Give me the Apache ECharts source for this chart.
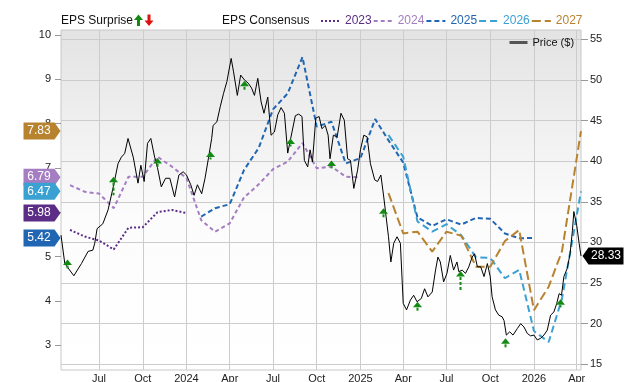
<!DOCTYPE html>
<html><head><meta charset="utf-8">
<script src="https://cdn.jsdelivr.net/npm/echarts@6/dist/echarts.min.js"></script>
<style>html,body{margin:0;padding:0;background:#fff}#c{width:640px;height:382px}</style>
</head><body><div id="c"></div>
<script>
// ---------- axis ticks ----------
const xRange = ['2023-04-12', '2026-04-10'];
const xTickDates = ['2023-07-01','2023-10-01','2024-01-01','2024-04-01','2024-07-01','2024-10-01','2025-01-01','2025-04-01','2025-07-01','2025-10-01','2026-01-01','2026-04-01'];
const xTickLabels = ['Jul','Oct','2024','Apr','Jul','Oct','2025','Apr','Jul','Oct','2026','Apr'];
const epsRange = [2.44, 10.11];
const epsTicks = [3,4,5,6,7,8,9,10];
const priceRange = [14.3, 56.15];
const priceTicks = [15,20,25,30,35,40,45,50,55];

// ---------- price ----------
const priceDates = ['2023-04-12','2023-04-20','2023-05-09','2023-05-25','2023-06-08','2023-06-18','2023-06-22','2023-06-27','2023-07-09','2023-07-20','2023-07-31','2023-08-10','2023-08-17','2023-08-24','2023-08-31','2023-09-11','2023-09-21','2023-09-27','2023-10-04','2023-10-11','2023-10-18','2023-10-26','2023-11-01','2023-11-09','2023-11-18','2023-11-27','2023-12-07','2023-12-16','2023-12-25','2024-01-01','2024-01-10','2024-01-17','2024-01-24','2024-02-02','2024-02-09','2024-02-16','2024-02-23','2024-02-26','2024-03-05','2024-03-12','2024-03-19','2024-03-26','2024-04-04','2024-04-09','2024-04-17','2024-04-24','2024-05-02','2024-05-10','2024-05-17','2024-05-23','2024-05-30','2024-06-06','2024-06-12','2024-06-20','2024-06-27','2024-07-04','2024-07-11','2024-07-18','2024-07-25','2024-08-01','2024-08-10','2024-08-17','2024-08-24','2024-08-31','2024-09-05','2024-09-12','2024-09-17','2024-09-22','2024-09-29','2024-10-06','2024-10-12','2024-10-19','2024-10-25','2024-10-29','2024-11-05','2024-11-13','2024-11-21','2024-11-28','2024-12-05','2024-12-11','2024-12-18','2024-12-26','2025-01-01','2025-01-08','2025-01-15','2025-01-22','2025-01-31','2025-02-06','2025-02-13','2025-02-19','2025-02-24','2025-03-01','2025-03-06','2025-03-12','2025-03-19','2025-03-26','2025-04-01','2025-04-08','2025-04-16','2025-04-23','2025-04-30','2025-05-09','2025-05-16','2025-05-23','2025-06-01','2025-06-08','2025-06-13','2025-06-18','2025-06-25','2025-07-02','2025-07-09','2025-07-16','2025-07-23','2025-07-27','2025-08-03','2025-08-10','2025-08-17','2025-08-24','2025-08-29','2025-09-04','2025-09-11','2025-09-18','2025-09-25','2025-10-01','2025-10-05','2025-10-12','2025-10-19','2025-10-26','2025-10-30','2025-11-04','2025-11-11','2025-11-18','2025-11-27','2025-12-04','2025-12-11','2025-12-18','2025-12-25','2026-01-01','2026-01-08','2026-01-15','2026-01-22','2026-01-29','2026-02-05','2026-02-12','2026-02-18','2026-02-23','2026-02-28','2026-03-05','2026-03-12','2026-03-18','2026-03-23','2026-03-26','2026-04-01','2026-04-06','2026-04-10'];
const priceValues = [30.9,27.4,25.9,27.4,28.9,29.05,29.9,31.7,32.3,34.0,36.85,39.7,40.5,40.96,42.8,40.5,37.3,39.5,37.5,42.2,42.8,40.5,39.2,36.85,37.9,37.9,35.6,38.3,38.7,38.3,37.1,35.8,37.1,36.0,37.9,40.3,42.8,44.4,44.85,46.7,48.35,49.8,52.65,51.0,48.1,50.6,50.0,49.6,49.0,48.1,50.2,47.3,45.9,47.9,43.2,43.6,45.7,46.6,45.9,41.0,43.6,45.6,45.8,45.5,40.1,39.3,41.4,39.9,45.3,45.5,44.0,44.4,43.2,40.3,43.2,43.0,45.9,45.05,40.3,40.1,36.65,38.9,41.4,43.2,43.0,39.7,37.7,37.5,38.3,35.6,33.15,30.7,27.6,29.9,30.7,29.9,22.5,21.7,22.9,23.5,22.7,23.1,24.3,23.3,23.9,26.6,28.2,27.6,25.15,26.2,28.4,26.6,27.6,26.4,26.6,26.2,27.0,28.2,28.6,27.0,27.0,25.8,27.4,25.8,23.3,21.7,21.05,20.85,20.4,18.6,19.0,18.6,19.4,20.0,19.6,18.8,18.5,18.6,18.0,18.2,18.6,19.2,21.05,21.45,22.5,23.7,23.5,25.8,26.8,28.6,31.5,33.8,32.1,29.9,28.33];

// ---------- EPS consensus ----------
const eps2023Dates = ['2023-05-01','2023-06-01','2023-07-01','2023-08-01','2023-09-01','2023-10-01','2023-11-01','2023-12-01','2024-01-01'];
const eps2023Values = [5.60,5.45,5.36,5.16,5.65,5.66,6.00,6.05,5.98];
const eps2024Dates = ['2023-05-01','2023-06-01','2023-07-01','2023-08-01','2023-09-01','2023-10-01','2023-11-01','2023-12-01','2024-01-01','2024-02-01','2024-03-01','2024-04-01','2024-05-01','2024-06-01','2024-07-01','2024-08-01','2024-09-01','2024-10-01','2024-11-01','2024-12-01','2024-12-28'];
const eps2024Values = [6.61,6.46,6.42,6.09,6.80,6.80,7.25,7.03,6.77,5.82,5.56,5.75,6.33,6.63,6.97,7.14,7.56,6.99,7.03,6.80,6.79];
const eps2025Dates = ['2024-02-01','2024-03-01','2024-04-01','2024-05-01','2024-06-01','2024-07-01','2024-08-01','2024-09-01','2024-10-01','2024-11-01','2024-12-01','2025-01-01','2025-02-01','2025-03-01','2025-04-01','2025-05-01','2025-06-01','2025-07-01','2025-08-01','2025-09-01','2025-10-01','2025-11-01','2025-12-01','2026-01-01'];
const eps2025Values = [5.90,6.09,6.18,6.95,7.45,8.32,8.68,9.50,7.93,8.04,7.10,7.22,8.10,7.62,7.12,5.88,5.69,5.84,5.72,5.87,5.85,5.52,5.41,5.42];
const eps2026Dates = ['2025-03-01','2025-04-01','2025-05-01','2025-06-01','2025-07-01','2025-08-01','2025-09-01','2025-10-01','2025-11-01','2025-12-01','2026-01-01','2026-02-01','2026-03-01','2026-04-10'];
const eps2026Values = [7.74,7.25,5.79,5.56,5.73,5.48,4.98,4.97,4.51,4.70,3.32,3.07,4.05,6.47];
const eps2027Dates = ['2025-03-01','2025-04-01','2025-05-01','2025-06-01','2025-07-01','2025-08-01','2025-09-01','2025-10-01','2025-11-01','2025-12-01','2026-01-01','2026-02-01','2026-03-01','2026-04-10'];
const eps2027Values = [6.43,5.52,5.56,5.11,5.56,5.47,4.77,4.77,5.35,5.60,3.79,4.32,5.12,7.83];

// ---------- EPS surprise (beats) ----------
const surpriseDates = ['2023-04-25','2023-07-31','2023-10-31','2024-02-20','2024-05-01','2024-08-06','2024-10-30','2025-02-18','2025-04-30','2025-07-30','2025-11-02','2026-02-25'];
const surpriseTop = [27.9,38.1,40.4,41.2,49.9,42.8,40.1,34.2,22.7,26.5,18.2,23.0];
const surpriseBottom = [26.8,35.8,39.3,40.3,48.8,42.0,39.3,33.1,21.6,24.1,17.0,22.1];

const FONT = 'Liberation Sans, Arial, sans-serif';
const t = s => { const p = s.split('-').map(Number); return new Date(p[0], p[1]-1, p[2]).getTime(); };
const xTickTimes = xTickDates.map(t);
const labelMap = {};
xTickTimes.forEach((v, i) => { labelMap[v] = xTickLabels[i]; });
const zip = (d, v) => d.map((x, i) => [t(x), v[i]]);

const epsSeries = [
  {name:'2023', dates:eps2023Dates, values:eps2023Values, color:'#5b2d86', dash:[2,2]},
  {name:'2024', dates:eps2024Dates, values:eps2024Values, color:'#a47dc2', dash:[4,3]},
  {name:'2025', dates:eps2025Dates, values:eps2025Values, color:'#2166b2', dash:[5,3]},
  {name:'2026', dates:eps2026Dates, values:eps2026Values, color:'#3aa1d2', dash:[7,4]},
  {name:'2027', dates:eps2027Dates, values:eps2027Values, color:'#b8832f', dash:[9,4]}
];

const chart = echarts.init(document.getElementById('c'));
const series = epsSeries.map(s => ({
  name: s.name, type: 'line', yAxisIndex: 0, symbol: 'none', showSymbol: false,
  data: zip(s.dates, s.values),
  lineStyle: {color: s.color, width: 2, type: s.dash},
  itemStyle: {color: s.color},
  z: 3,
  markPoint: {
    symbol: 'path://M0,0 L31,0 L37,8 L31,16 L0,16 Z',
    symbolSize: [37, 17],
    symbolOffset: [-19, 0],
    itemStyle: {color: s.color},
    label: {show: true, color: '#fff', fontSize: 12, fontFamily: FONT, offset: [-3, 0], formatter: p => p.value},
    data: [{coord: [t(xRange[0]), s.values[s.values.length-1]], value: s.values[s.values.length-1].toFixed(2)}],
    z: 10
  }
}));
series.push({
  name: 'Price ($)', type: 'line', yAxisIndex: 1, symbol: 'none', showSymbol: false,
  data: zip(priceDates, priceValues),
  lineStyle: {color: '#000', width: 1},
  itemStyle: {color: '#000'},
  z: 4,
  markPoint: {
    symbol: 'path://M0,8 L6,0 L41,0 L41,16 L6,16 Z',
    symbolSize: [41, 17],
    symbolOffset: [22, 0],
    itemStyle: {color: '#000'},
    label: {show: true, color: '#fff', fontSize: 12, fontFamily: FONT, offset: [3, 0], formatter: p => p.value},
    data: [{coord: [t(xRange[1]), priceValues[priceValues.length-1]], value: priceValues[priceValues.length-1].toFixed(2)}],
    z: 10
  }
});
series.push({
  name: 'surprise', type: 'custom', yAxisIndex: 1, z: 6,
  data: surpriseDates.map((d, i) => [t(d), surpriseTop[i], surpriseBottom[i]]),
  encode: {x: 0, y: [1, 2]},
  renderItem: (params, api) => {
    const top = api.coord([api.value(0), api.value(1)]);
    const bot = api.coord([api.value(0), api.value(2)]);
    const x = Math.round(top[0]) + 0.5;
    return {type: 'group', children: [
      {type: 'line', shape: {x1: x, y1: top[1] + 6, x2: x, y2: Math.max(bot[1], top[1] + 8)},
       style: {stroke: '#138a13', lineWidth: 2, lineDash: [3, 2]}},
      {type: 'polygon', shape: {points: [[x, top[1]], [x + 4.5, top[1] + 5.5], [x - 4.5, top[1] + 5.5]]},
       style: {fill: '#138a13'}}
    ]};
  }
});

chart.setOption({
  animation: false,
  textStyle: {fontFamily: FONT},
  grid: {
    left: 61, right: 59, top: 30, bottom: 12, show: true,
    outerBoundsMode: 'none',
    borderColor: '#c8c8c8', borderWidth: 1,
    backgroundColor: new echarts.graphic.LinearGradient(0, 0, 0, 1, [
      {offset: 0, color: '#e3e3e3'}, {offset: 0.55, color: '#fcfcfc'}, {offset: 1, color: '#ffffff'}])
  },
  legend: [
    {data: epsSeries.map(s => ({name: s.name, textStyle: {color: s.color}})),
     left: 315, top: 10, itemWidth: 19, itemHeight: 10, itemGap: 1,
     itemStyle: {opacity: 0},
     selectedMode: false, textStyle: {fontSize: 12, fontFamily: FONT}},
    {data: ['Price ($)'], left: 503, top: 32, itemWidth: 18, itemHeight: 10, selectedMode: false,
     itemStyle: {opacity: 0},
     lineStyle: {color: '#555', width: 3},
     textStyle: {fontSize: 11, color: '#111', fontFamily: FONT}}
  ],
  graphic: [
    {type: 'text', left: 61, top: 15, style: {text: 'EPS Surprise', fontSize: 12, fill: '#111', fontFamily: FONT}},
    {type: 'polygon', shape: {points: [[138.5,14.5],[143,20],[140,20],[140,26],[137,26],[137,20],[134,20]]}, style: {fill: '#138a13'}},
    {type: 'polygon', shape: {points: [[149,26],[153.5,20.5],[150.5,20.5],[150.5,14.5],[147.5,14.5],[147.5,20.5],[144.5,20.5]]}, style: {fill: '#e01010'}},
    {type: 'text', left: 222, top: 15, style: {text: 'EPS Consensus', fontSize: 12, fill: '#111', fontFamily: FONT}}
  ],
  xAxis: {
    type: 'value', min: t(xRange[0]), max: t(xRange[1]),
    axisLine: {show: false},
    axisTick: {show: false, customValues: xTickTimes},
    axisLabel: {customValues: xTickTimes, formatter: v => labelMap[v] || '', margin: 3, fontSize: 11, color: '#222', fontFamily: FONT},
    splitLine: {show: true, customValues: xTickTimes, lineStyle: {color: '#cccccc', width: 1}}
  },
  yAxis: [
    {type: 'value', position: 'left', min: epsRange[0], max: epsRange[1],
     axisLine: {show: false},
     axisTick: {show: true, length: 6, customValues: epsTicks, lineStyle: {color: '#999'}},
     axisLabel: {customValues: epsTicks, fontSize: 11, color: '#222', margin: 10, fontFamily: FONT},
     splitLine: {show: false}},
    {type: 'value', position: 'right', min: priceRange[0], max: priceRange[1],
     axisLine: {show: false},
     axisTick: {show: true, length: 7, customValues: priceTicks, lineStyle: {color: '#999'}},
     axisLabel: {customValues: priceTicks, fontSize: 11, color: '#222', margin: 9, fontFamily: FONT},
     splitLine: {show: true, customValues: priceTicks, lineStyle: {color: '#cccccc', width: 1}}}
  ],
  series: series
});
</script></body></html>
